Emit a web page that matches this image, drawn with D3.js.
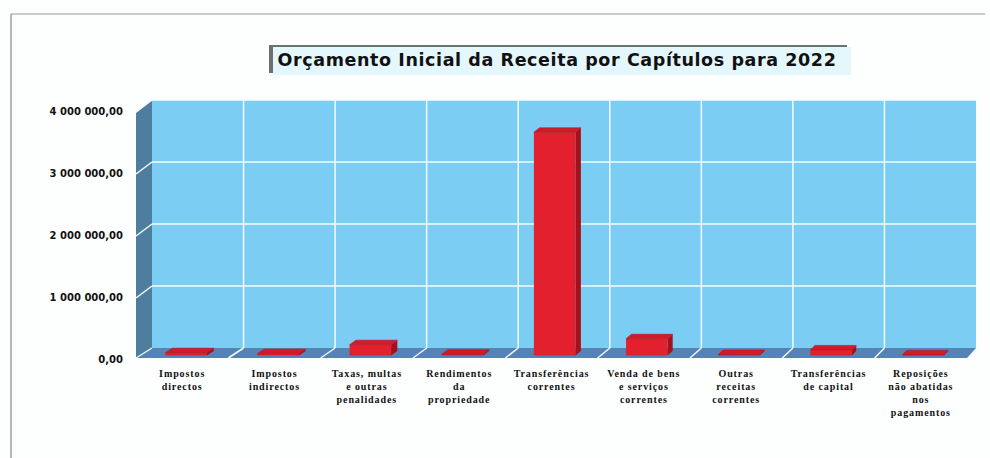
<!DOCTYPE html>
<html>
<head>
<meta charset="utf-8">
<script src="https://cdn.jsdelivr.net/npm/d3@7"></script>
<style>
  body { margin: 0; background: #fdfefe; }
  svg { display: block; }
</style>
</head>
<body>
<svg id="chart"></svg>
<script>
// data
var categories = ["Impostos directos", "Impostos indirectos", "Taxas, multas e outras penalidades",
    "Rendimentos da propriedade", "Transferências correntes", "Venda de bens e serviços correntes",
    "Outras receitas correntes", "Transferências de capital", "Reposições não abatidas nos pagamentos"];
var categoryLines = [
    ["Impostos", "directos"],
    ["Impostos", "indirectos"],
    ["Taxas, multas", "e outras", "penalidades"],
    ["Rendimentos", "da", "propriedade"],
    ["Transferências", "correntes"],
    ["Venda de bens", "e serviços", "correntes"],
    ["Outras", "receitas", "correntes"],
    ["Transferências", "de capital"],
    ["Reposições", "não abatidas", "nos", "pagamentos"]
];
var values = [45000, 30000, 175000, 20000, 3600000, 270000, 15000, 90000, 10000];
var yTicks = [0, 1000000, 2000000, 3000000, 4000000];
var chartTitle = "Orçamento Inicial da Receita por Capítulos para 2022";

var W = 990, H = 458;
var svg = d3.select("#chart").attr("width", W).attr("height", H);

// back wall extents
var wall = { left: 152, right: 976, top: 100, bottom: 348 };
var depthY = 10;

var x = d3.scaleBand().domain(categories).range([wall.left, wall.right]).paddingInner(0).paddingOuter(0);
var y = d3.scaleLinear().domain([0, 4000000]).range([wall.bottom, wall.top]);

// project a back-wall point forward by z (0 = back, 1 = front)
function px(xv, z) { return xv + z * (-16 + 7 * (xv - wall.left) / (wall.right - wall.left)); }
function py(yv, z) { return yv + z * depthY; }
function pts(arr) { return arr.map(function(p) { return p.join(","); }).join(" "); }

// page frame
svg.append("line").attr("x1", 11).attr("x2", 985).attr("y1", 14).attr("y2", 14)
    .attr("stroke", "#b4b9be").attr("stroke-width", 1.5);
svg.append("line").attr("x1", 11).attr("x2", 11).attr("y1", 14).attr("y2", H)
    .attr("stroke", "#9a9ea3").attr("stroke-width", 1.5);

// title box
svg.append("rect").attr("x", 269).attr("y", 45).attr("width", 578).attr("height", 28).attr("fill", "#6d7073");
svg.append("rect").attr("x", 273).attr("y", 47).attr("width", 578).attr("height", 28).attr("fill", "#e4f7fd");
svg.append("text")
    .attr("x", 557).attr("y", 66)
    .attr("text-anchor", "middle")
    .style("font-family", "'DejaVu Sans', sans-serif")
    .style("font-weight", "bold")
    .style("font-size", "17.5px")
    .style("letter-spacing", "0.6px")
    .attr("fill", "#111")
    .text(chartTitle);

// back wall
svg.append("rect")
    .attr("x", wall.left).attr("y", wall.top)
    .attr("width", wall.right - wall.left).attr("height", wall.bottom - wall.top)
    .attr("fill", "#7ccdf4");

// left side wall
svg.append("polygon")
    .attr("points", pts([[px(wall.left, 1), py(wall.top, 1) + 3], [wall.left, wall.top],
        [wall.left, wall.bottom], [px(wall.left, 1), py(wall.bottom, 1)]]))
    .attr("fill", "#4d7e9e");

// floor
svg.append("polygon")
    .attr("points", pts([[wall.left, wall.bottom], [wall.right, wall.bottom],
        [px(wall.right, 1), py(wall.bottom, 1)], [px(wall.left, 1), py(wall.bottom, 1)]]))
    .attr("fill", "#5483b4");

// horizontal gridlines on back wall + side wall
yTicks.forEach(function(t) {
    if (t === 0) return;
    svg.append("line")
        .attr("x1", wall.left).attr("x2", wall.right)
        .attr("y1", y(t)).attr("y2", y(t))
        .attr("stroke", "#f4fbff").attr("stroke-width", 1.5);
    svg.append("line")
        .attr("x1", wall.left).attr("y1", y(t))
        .attr("x2", px(wall.left, 1)).attr("y2", py(y(t), 1) + 2)
        .attr("stroke", "#f4fbff").attr("stroke-width", 1.5);
});

// vertical gridlines on back wall and diagonal lines on floor
categories.slice(1).forEach(function(c) {
    var xv = x(c);
    svg.append("line")
        .attr("x1", xv).attr("x2", xv)
        .attr("y1", wall.top).attr("y2", wall.bottom)
        .attr("stroke", "#f4fbff").attr("stroke-width", 1.5);
    svg.append("line")
        .attr("x1", xv).attr("y1", wall.bottom)
        .attr("x2", px(xv, 1)).attr("y2", py(wall.bottom, 1))
        .attr("stroke", "#f4fbff").attr("stroke-width", 1.5);
});
svg.append("line")
    .attr("x1", wall.left).attr("y1", wall.bottom)
    .attr("x2", px(wall.left, 1)).attr("y2", py(wall.bottom, 1))
    .attr("stroke", "#f4fbff").attr("stroke-width", 1.2);

// 3D bars
var zFront = 0.75, zBack = 0.3;
var barW = x.bandwidth() * 0.45;
var bars = svg.append("g").selectAll("g")
    .data(values)
    .enter().append("g");

bars.each(function(d, i) {
    var g = d3.select(this);
    var cx = x(categories[i]) + x.bandwidth() / 2;
    var x0 = cx - barW / 2, x1 = cx + barW / 2;
    var yTop = y(d), yBase = y(0);
    var f = function(xv, yv) { return [px(xv, zFront), py(yv, zFront)]; };
    var b = function(xv, yv) { return [px(xv, zBack), py(yv, zBack)]; };
    // right side
    g.append("polygon")
        .attr("points", pts([f(x1, yTop), b(x1, yTop), b(x1, yBase), f(x1, yBase)]))
        .attr("fill", "#a3121c");
    // front
    g.append("polygon")
        .attr("points", pts([f(x0, yTop), f(x1, yTop), f(x1, yBase), f(x0, yBase)]))
        .attr("fill", "#e3202e");
    // top
    g.append("polygon")
        .attr("points", pts([f(x0, yTop), b(x0, yTop), b(x1, yTop), f(x1, yTop)]))
        .attr("fill", "#d21a28")
        .attr("stroke", "#b3151f").attr("stroke-width", 0.6);
});

// y axis labels, aligned with the front edge
var nf = d3.formatLocale({ decimal: ",", thousands: " ", grouping: [3], currency: ["", ""] }).format(",.2f");
var yAxis = svg.append("g")
    .attr("transform", "translate(" + px(wall.left, 1) + "," + (depthY + 1) + ")")
    .call(d3.axisLeft(y).tickValues(yTicks).tickSize(0).tickPadding(13).tickFormat(nf));
yAxis.select(".domain").remove();
yAxis.selectAll("text")
    .style("font-family", "'DejaVu Sans', sans-serif")
    .style("font-weight", "bold")
    .style("font-size", "10px")
    .attr("fill", "#111");

// category labels
var labels = svg.append("g").selectAll("text")
    .data(categoryLines)
    .enter().append("text")
    .attr("text-anchor", "middle")
    .style("font-family", "'Liberation Serif', 'Times New Roman', serif")
    .style("font-weight", "bold")
    .style("font-size", "10px")
    .style("letter-spacing", "0.9px")
    .attr("fill", "#111")
    .attr("transform", function(d, i) {
        var cx = x(categories[i]) + x.bandwidth() / 2;
        return "translate(" + px(cx, 1) + ",377)";
    });
labels.selectAll("tspan")
    .data(function(d) { return d; })
    .enter().append("tspan")
    .attr("x", 0)
    .attr("y", function(d, i) { return i * 13; })
    .text(function(d) { return d; });
</script>
</body>
</html>
